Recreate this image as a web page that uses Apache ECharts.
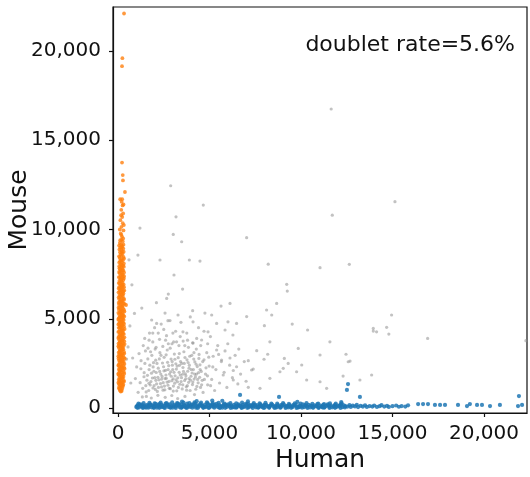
<!DOCTYPE html>
<html>
<head>
<meta charset="utf-8">
<script src="https://cdn.jsdelivr.net/npm/echarts@6/dist/echarts.min.js"></script>
<style>
  html, body { margin: 0; padding: 0; background: #fff; }
  #chart { width: 530px; height: 477px; }
</style>
</head>
<body>
<div id="chart"></div>
<script>
// tick values shared by both axes
const tickValues = [0, 5000, 10000, 15000, 20000];
const doubletRate = '5.6%';

// mouse cells: few human UMIs, many mouse UMIs  [human, mouse]
const mouseCells = [
  [150,920],[110,980],[190,1010],[80,1060],[230,1090],[140,1130],[60,1180],[260,1200],[170,1240],[100,1290],
  [290,1310],[50,1350],[200,1380],[130,1420],[260,1450],[80,1500],[180,1530],[310,1560],[40,1600],[140,1640],
  [240,1670],[90,1720],[300,1750],[190,1790],[60,1830],[250,1860],[130,1900],[30,1950],[210,1970],[320,2010],
  [100,2050],[170,2090],[270,2120],[50,2170],[140,2200],[230,2240],[330,2270],[80,2310],[190,2350],[280,2390],
  [40,2430],[130,2460],[240,2500],[90,2550],[310,2580],[170,2620],[60,2660],[260,2690],[140,2730],[30,2780],
  [210,2800],[320,2840],[110,2880],[180,2920],[270,2950],[70,2990],[150,3030],[240,3070],[40,3110],[330,3140],
  [120,3180],[200,3220],[90,3260],[290,3290],[160,3330],[50,3380],[250,3400],[130,3450],[310,3480],[80,3520],
  [200,3560],[30,3610],[270,3630],[150,3670],[100,3720],[340,3740],[220,3780],[60,3830],[170,3860],[280,3900],
  [120,3950],[40,3990],[240,4020],[190,4070],[80,4110],[320,4140],[140,4190],[250,4230],[60,4280],[180,4310],
  [290,4350],[110,4400],[210,4440],[40,4490],[150,4520],[330,4560],[90,4610],[250,4640],[180,4690],[60,4740],
  [280,4770],[130,4810],[220,4860],[80,4900],[310,4930],[160,4980],[40,5030],[240,5060],[120,5110],[200,5150],
  [300,5190],[70,5240],[170,5280],[260,5320],[110,5370],[350,5400],[210,5450],[50,5500],[150,5530],[280,5570],
  [90,5620],[230,5660],[180,5710],[440,5770],[60,5790],[130,5830],[290,5860],[200,5910],[100,5960],[250,6000],
  [160,6050],[60,6100],[320,6130],[210,6180],[120,6230],[270,6270],[80,6330],[180,6370],[300,6410],[140,6460],
  [230,6510],[90,6560],[340,6590],[190,6640],[120,6700],[260,6730],[70,6790],[210,6830],[150,6880],[310,6920],
  [100,6980],[240,7020],[180,7080],[80,7130],[290,7170],[140,7230],[220,7280],[110,7340],[330,7380],[170,7440],
  [250,7490],[90,7550],[200,7600],[140,7660],[290,7710],[110,7770],[230,7820],[180,7880],[70,7940],[270,7990],
  [150,8050],[320,8100],[210,8160],[120,8220],[260,8280],[170,8340],[90,8410],[300,8460],[200,8520],[140,8590],
  [250,8650],[110,8720],[220,8790],[180,8860],[290,8930],[130,9000],[230,9080],[170,9160],[100,9250],[260,9330],
  [190,9420],[220,9600],[150,9780],[300,9950],[190,10150],[260,10350],[130,10520],[230,10700],[280,10900],
  [180,11100],[250,11350],[200,11550],[230,11700],[380,12100],[270,12750],[260,13050],[220,13750],
  [220,19150],[240,19600],[330,22100],
  [200,950],[60,1100],[250,1270],[20,1420],[330,1480],[110,1580],[220,1720],[20,1880],[340,1920],[90,2120],
  [360,2200],[200,2290],[20,2380],[350,2470],[240,2610],[110,2710],[370,2760],[20,2900],[200,2980],[340,3050],
  [90,3150],[250,3310],[20,3460],[190,3500],[360,3580],[80,3660],[260,3790],[20,3920],[350,3960],[140,4070],
  [270,4170],[20,4260],[220,4370],[360,4430],[100,4530],[200,4600],[20,4680],[330,4720],[180,4830],[20,4950],
  [270,4990],[90,5080],[340,5120],[230,5230],[20,5330],[160,5420],[330,5490],[30,5620],[260,5730],[360,5830],
  [40,5900],[190,5990],[330,6060],[40,6200],[240,6360],[30,6480],[300,6540],[160,6590],[40,6700],[330,6770],
  [240,6900],[40,7000],[180,7190],[320,7260],[50,7330],[260,7400],[60,7620],[330,7590],[230,7720],[80,7830],
  [320,7920],[200,8000],[70,8150],[190,8260],[330,8370],[60,8500],[200,8700],[80,8880],[310,8760],[220,9000],
  [60,9100],[300,9150],[120,9400],[280,9500],[180,9700],[100,10000],[320,10250],[170,10800],[300,11400],[120,11700]
];

// human cells: many human UMIs, few mouse UMIs  [human, mouse]
const humanCells = [
  [1000,60],[1080,150],[1150,30],[1230,110],[1300,190],[1370,50],[1450,130],[1530,20],[1600,170],[1680,80],
  [1750,210],[1830,40],[1900,140],[1980,90],[2060,230],[2130,20],[2210,160],[2290,70],[2370,190],[2440,110],
  [2520,30],[2600,250],[2680,140],[2750,60],[2830,200],[2910,100],[2990,20],[3070,170],[3150,80],[3230,280],
  [3300,130],[3380,40],[3460,210],[3540,90],[3620,160],[3700,30],[3780,240],[3860,120],[3940,60],[4020,190],
  [4100,100],[4180,310],[4260,20],[4340,150],[4420,80],[4500,220],[4580,130],[4660,40],[4740,180],[4820,90],
  [4900,260],[4980,30],[5060,140],[5140,200],[5220,70],[5300,120],[5380,230],[5460,50],[5540,160],[5620,100],
  [5700,20],[5780,190],[5860,130],[5940,60],[6020,210],[6100,90],[6180,150],[6260,30],[6340,180],[6420,110],
  [6500,60],[6580,200],[6660,140],[6740,40],[6820,170],[6900,90],[6980,230],[7060,120],[7140,30],[7220,160],
  [7300,80],[7380,190],[7460,110],[7540,40],[7620,150],[7700,80],[7780,200],[7860,60],[7940,130],[8020,30],
  [8100,170],[8180,100],[8260,50],[8340,140],[8420,190],[8500,70],[8580,120],[8660,30],[8740,160],[8820,90],
  [8900,40],[8980,140],[9060,200],[9140,70],[9220,120],[9300,30],[9380,160],[9460,90],[9540,50],[9620,130],
  [9700,190],[9780,80],[9860,30],[9940,140],[10020,90],[10100,200],[10180,50],[10260,130],[10340,80],[10420,170],
  [10500,30],[10580,110],[10660,60],[10740,150],[10820,90],[10900,220],[10980,40],[11060,130],[11140,80],[11220,170],
  [11300,50],[11380,120],[11460,200],[11540,70],[11620,140],[11700,40],[11780,110],[11860,180],[11940,60],[12020,130],
  [12100,90],[12180,200],[12260,50],[12340,150],[12420,100],
  [1040,110],[1190,200],[1330,90],[1490,60],[1640,120],[1790,170],[1940,50],[2100,110],[2250,220],[2400,50],
  [2560,130],[2720,190],[2870,40],[3030,110],[3190,150],[3340,200],[3500,50],[3660,120],[3820,70],[3980,140],
  [4140,200],[4300,80],[4460,150],[4620,100],[4780,50],[4940,170],[5100,90],[5260,180],[5420,130],[5580,40],
  [5740,110],[5900,170],[6060,140],[6220,80],[6380,40],[6540,130],[6700,100],[6860,50],[7020,170],[7180,100],
  [7340,140],[7500,170],[7660,40],[7820,110],[8000,170],[8300,110],[8620,70],[8940,170],[9260,90],[9580,160],
  [9900,60],[10220,160],[10540,140],[10860,110],[11180,30],[11500,150],[11820,80],[12140,150],[12400,30],
  [1120,250],[1400,270],[1720,290],[2000,260],[2330,300],[2650,280],[2960,310],[3270,250],[3580,300],[3900,270],
  [4220,250],[4540,300],[4860,320],[5180,270],[5500,290],[5820,250],[6140,280],[6460,260],[6780,300],[7100,250],
  [7420,280],[7740,260],[8060,290],[8380,250],[8700,240],[9020,270],[9340,230],[9660,260],[9980,240],[10300,270],
  [10620,230],[10940,250],[11260,220],[11580,260],[11900,240],[12220,260],
  [1060,10],[1360,0],[1660,15],[1960,5],[2260,10],[2560,0],[2860,15],[3160,5],[3460,10],[3760,0],
  [4060,15],[4360,5],[4660,10],[4960,0],[5260,15],[5560,5],[5860,10],[6160,0],[6460,15],[6760,5],
  [7060,10],[7360,0],[7660,15],[7960,5],[8260,10],[8560,0],[8860,15],[9160,5],[9460,10],[9760,0],
  [10060,15],[10360,5],[10660,10],[10960,0],[11260,15],[11560,5],[11860,10],[12160,0],
  [5150,420],[5700,400],[4300,380],[3500,360],[9800,340],[12200,330],[7100,370],
  [12550,80],[12650,160],[12720,60],[12830,130],[12950,90],[13050,170],[13120,50],[13260,120],[13380,80],[13500,150],
  [13600,60],[13750,110],[13900,80],[14000,140],[14150,60],[14300,100],[14400,160],[14550,80],[14700,120],[14800,60],
  [15000,100],[15200,140],[15350,70],[15500,110],[15700,80],[15850,150],
  [16400,220],[16670,220],[16940,220],[17320,170],[17600,170],[17870,170],[18580,170],[19070,110],[19230,220],
  [19620,170],[19890,170],[20330,110],[20870,170],[21860,110],[22080,170],
  [6670,730],[8800,620],[12570,1340],[12510,1010],[13220,620],[21910,670]
];

// doublets: both species  [human, mouse]
const doublets = [
  [1520,1250],[1610,1830],[1680,980],[1740,2400],[1800,1480],[1850,2950],[1910,1120],[1960,2060],[2010,1700],[2060,2680],
  [2110,1350],[2150,930],[2200,2230],[2240,1580],[2290,3100],[2340,1900],[2380,1180],[2430,2520],[2470,1420],[2520,2840],
  [2560,1020],[2600,2110],[2640,1660],[2690,3250],[2730,1280],[2770,2370],[2820,1900],[2860,1080],[2900,2740],[2950,1530],
  [2990,2150],[3030,1230],[3080,3020],[3120,1800],[3160,2480],[3210,960],[3250,1470],[3290,2820],[3340,2000],[3380,1330],
  [3420,2600],[3470,1700],[3510,1070],[3550,2270],[3600,3150],[3640,1540],[3680,1920],[3730,1190],[3770,2700],[3810,2060],
  [3860,1440],[3900,2400],[3940,980],[3990,1780],[4030,2950],[4070,1310],[4120,2150],[4160,1620],[4200,2580],[4250,1050],
  [4290,1900],[4330,2320],[4380,1410],[4420,2780],[4460,1720],[4510,1150],[4550,2050],[4600,1550],
  [1580,1560],[1700,2150],[1760,1290],[1880,1680],[1940,2540],[2040,1040],[2090,1990],[2180,1720],[2260,2750],[2320,1370],
  [2410,1770],[2490,2310],[2540,1230],[2620,1850],[2710,2560],[2790,1490],[2880,2030],[2970,2400],[3010,1640],[3100,1390],
  [3190,2180],[3270,1690],[3360,2390],[3450,1480],[3530,1890],[3620,2500],[3700,1640],[3790,1250],[3880,2230],[3960,1560],
  [4050,1960],[4140,2740],[4230,1740],[4310,1210],[4400,1980],[4480,2420],
  [1350,1100],[1420,1750],[1470,2500],[1540,900],[1630,2750],[1690,1380],[1780,3150],[1830,1950],[1920,2300],[1970,1250],
  [2030,3300],[2070,1550],[2130,2500],[2210,1150],[2280,2050],[2350,2950],[2390,1620],[2460,1000],[2510,2080],[2570,1650],
  [2630,2980],[2680,1450],[2740,2150],[2800,1100],[2850,3350],[2910,1780],[2960,2600],[3020,950],[3060,2000],[3110,2730],
  [3170,1580],[3230,2350],[3300,1150],[3350,3050],[3400,1850],[3480,2500],[3540,1300],[3580,2050],[3660,2830],[3710,1800],
  [3750,1000],[3830,2550],[3880,1650],[3920,2900],[4000,2150],[4090,1450],[4150,3100],[4190,1900],[4270,2450],[4350,1600],
  [4430,3000],[4490,2150],[4570,1300],[4630,2600],[4720,1600],[4810,2250],[4890,1800],[4960,2850],[5060,1250],[5180,2300],
  [1700,3800],[2200,4200],[2600,3800],[3000,4200],[3400,4000],[3800,3800],[4300,3900],[4700,4300],[1500,3200],[1250,2200],
  [1900,4200],[2500,4400],[2950,3600],[3650,3500],[4900,3600],[5500,3000],[5800,2000],[6000,3600],[6300,2100],[6700,1900],
  [6900,2600],[6600,3300],[7000,1500],
  [950,1650],[1020,2300],[1100,880],[1150,3050],[1210,1420],[1260,2650],[1330,620],[1380,3500],[1430,1980],[1460,3900],
  [1550,650],[1640,3350],[1720,4200],[1820,560],[1900,3700],[2000,4500],[2080,3400],[2180,710],[2270,3850],[2360,4700],
  [2450,3450],[2580,600],[2650,4050],[2750,3600],[2840,4900],[2940,700],[3040,3700],[3150,4300],[3260,530],[3330,3500],
  [3440,4800],[3560,3750],[3660,650],[3760,4200],[3850,3400],[3950,5100],[4080,3650],[4180,750],[4280,3300],[4400,4500],
  [4520,3500],[4650,870],[4700,2700],[4780,1900],[4850,3100],[4900,1300],[4980,2350],[5050,4000],[5120,1600],[5200,2900],
  [5280,980],[5350,2150],[5450,3500],[5550,1400],[5650,2600],[5750,1850],[5850,3200],[5950,1150],[6100,2400],[6250,1700],
  [6400,2950],[6550,1350],
  [700,1400],[800,2800],[650,4600],[900,5300],[760,6900],[1300,5600],[2100,5900],[600,8300],[550,3420],[470,2740],
  [2570,5320],[3280,5210],[2110,4740],[2730,4890],[4100,4830],[4750,5320],[5120,5210],[5390,4740],[6010,4830],[6480,4740],
  [4920,4270],[5850,4370],[6280,4090],[3550,4270],[3200,3710],[4100,3640],[4570,3810],[5390,3250],[5660,2690],[6120,2800],
  [6480,2310],
  [2880,12450],[4660,11370],[3170,10710],[3020,9725],[3480,9315],[7030,9540],[11710,10800],[15135,11560],[2295,8290],
  [3900,8290],[4480,8230],[8210,8060],[11040,7860],[12640,8050],[3060,7450],[3530,6660],[2750,6380],[2660,6140],
  [9220,6930],[9250,6550],[8670,5860],[6120,5860],[5630,5710],[4080,5450],[8400,5210],[7030,5120],[9520,4700],
  [8000,4610],[10360,4370],[14950,5210],[14680,4520],[14800,4140],[13950,4310],[14130,4270],[16920,3900],[22290,3770],
  [11580,3710],[8300,3710],[9850,3340],[7580,3210],[8180,3010],[12460,3010],[12680,2630],[9090,2780],[10040,2410],
  [7120,2650],[9030,2220],[7390,2180],[9300,2500],[7980,2730],[11040,2970],[12580,2590],[10310,1570],[11040,1470],
  [7760,1100],[8300,1660],[7300,2130],[8850,2030],[7120,1160],[6300,1570],[9760,2030],[11400,1100],[13220,1570],
  [13950,4460],[8120,5490],[1200,10080],[1090,8570],[1840,4930],[12300,1790],[13860,1850],[11650,16750]
];

const fmt = v => String(v).replace(/\B(?=(\d{3})+(?!\d))/g, ',');
const font = 'DejaVu Sans';

let myChart = echarts.init(document.getElementById('chart'));
let option = {
  animation: false,
  textStyle: { fontFamily: font },
  title: {
    text: 'doublet rate=' + doubletRate,
    right: 15, top: 34, padding: 0,
    textStyle: { fontFamily: font, fontSize: 22, fontWeight: 'normal', color: '#111' }
  },
  grid: {
    left: 113, right: 3, top: 7, bottom: 64,
    outerBoundsMode: 'none',
    show: true, borderColor: '#111', borderWidth: 1.2
  },
  xAxis: {
    type: 'value', min: -273, max: 22350,
    name: 'Human', nameLocation: 'middle', nameGap: 35, nameMoveOverlap: false,
    nameTextStyle: { fontFamily: font, fontSize: 25, color: '#111' },
    axisLine: { show: true, onZero: false, lineStyle: { color: '#111', width: 1.2 } },
    axisTick: { show: true, length: 4, customValues: tickValues, lineStyle: { color: '#111', width: 1.2 } },
    axisLabel: { customValues: tickValues, formatter: fmt, margin: 11, fontSize: 20, color: '#111', fontFamily: font },
    splitLine: { show: false }
  },
  yAxis: {
    type: 'value', min: -280, max: 22465,
    name: 'Mouse', nameLocation: 'middle', nameGap: 81, nameMoveOverlap: false,
    nameTextStyle: { fontFamily: font, fontSize: 25, color: '#111' },
    axisLine: { show: true, onZero: false, lineStyle: { color: '#111', width: 1.2 } },
    axisTick: { show: true, length: 4, customValues: tickValues, lineStyle: { color: '#111', width: 1.2 } },
    axisLabel: { customValues: tickValues, formatter: fmt, margin: 12, fontSize: 20, color: '#111', fontFamily: font },
    splitLine: { show: false }
  },
  series: [
    { type: 'scatter', data: doublets, symbolSize: 3.2, itemStyle: { color: '#909090', opacity: 0.55 } },
    { type: 'scatter', data: mouseCells, symbolSize: 3.8, itemStyle: { color: '#ff7f0e', opacity: 0.8 } },
    { type: 'scatter', data: humanCells, symbolSize: 4.2, itemStyle: { color: '#1f77b4', opacity: 0.85 } }
  ]
};
myChart.setOption(option);
</script>
</body>
</html>
